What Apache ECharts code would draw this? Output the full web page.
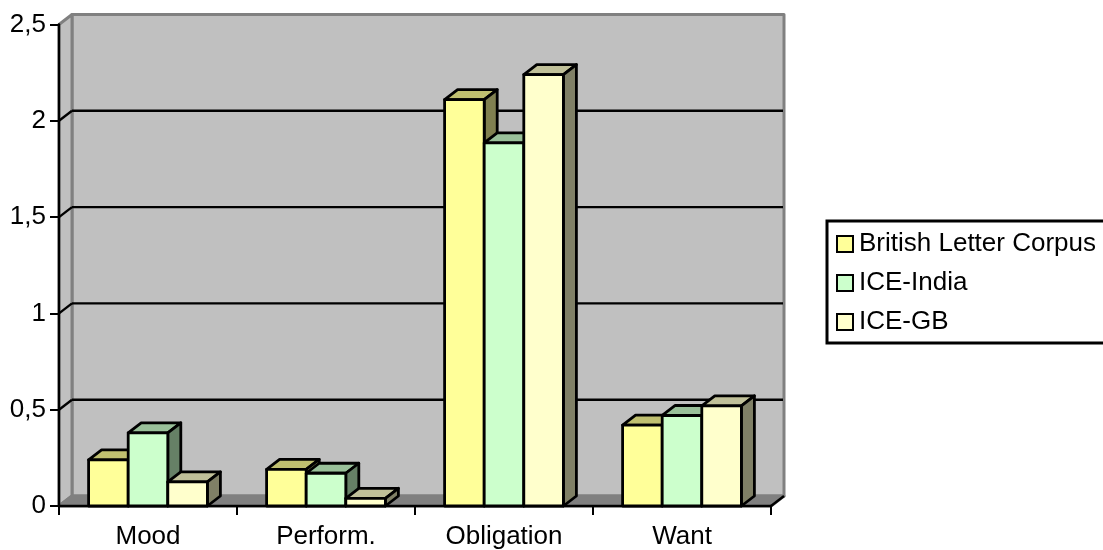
<!DOCTYPE html>
<html>
<head>
<meta charset="utf-8">
<style>html,body{margin:0;padding:0;background:#fff;overflow:hidden}#chart{width:1103px;height:550px}</style>
<script src="https://cdn.jsdelivr.net/npm/echarts@6/dist/echarts.min.js"></script>
</head>
<body>
<div id="chart"></div>
<script>
// Modal meanings per corpus
const categories = ['Mood', 'Perform.', 'Obligation', 'Want'];
const britishLetter = [0.24, 0.19, 2.11, 0.42];
const iceIndia = [0.38, 0.17, 1.885, 0.47];
const iceGB = [0.125, 0.04, 2.24, 0.52];
const yTicks = [0, 0.5, 1, 1.5, 2, 2.5];

// Pseudo-3D look
const DEPTH_X = 13, DEPTH_Y = -10;
const BAR_W = 39.6;
const LINE_W = 2.4;
const FONT = '"Liberation Sans", Arial, sans-serif';
const FONT_SIZE = 26;

const palettes = [
  { front: '#FFFF99', top: '#C0C070', side: '#808050' },
  { front: '#CCFFCC', top: '#99C099', side: '#668066' },
  { front: '#FFFFCC', top: '#C0C099', side: '#808066' }
];

function poly(points, fill, stroke, width) {
  return {
    type: 'polygon',
    shape: { points },
    style: { fill, stroke, lineWidth: width, lineJoin: 'round' }
  };
}
function seg(x1, y1, x2, y2, color, z2) {
  return {
    type: 'line', z2: z2 || 0,
    shape: { x1, y1, x2, y2 },
    style: { stroke: color, lineWidth: LINE_W, fill: null }
  };
}

// Back wall, side wall, floor and gridlines
function renderWalls(params, api) {
  const cs = params.coordSys;
  const l = cs.x, r = cs.x + cs.width;
  const y0 = api.coord([0, 0])[1], yT = api.coord([0, yTicks[yTicks.length - 1]])[1];
  const kids = [
    poly([[l + DEPTH_X, yT + DEPTH_Y], [r + DEPTH_X, yT + DEPTH_Y], [r + DEPTH_X, y0 + DEPTH_Y], [l + DEPTH_X, y0 + DEPTH_Y]], '#C0C0C0', '#808080', 3),
    poly([[l, yT], [l + DEPTH_X, yT + DEPTH_Y], [l + DEPTH_X, y0 + DEPTH_Y], [l, y0]], '#C0C0C0', '#808080', 3),
    poly([[l, y0], [l + DEPTH_X, y0 + DEPTH_Y], [r + DEPTH_X, y0 + DEPTH_Y], [r, y0]], '#808080', '#808080', 3),
    seg(r, y0, r + DEPTH_X, y0 + DEPTH_Y, '#000', 2)
  ];
  yTicks.slice(1, -1).forEach(t => {
    const y = api.coord([0, t])[1];
    kids.push(seg(l, y, l + DEPTH_X, y + DEPTH_Y, '#000', 2));
    kids.push(seg(l + DEPTH_X, y + DEPTH_Y, r + DEPTH_X - 1, y + DEPTH_Y, '#000', 2));
  });
  return { type: 'group', children: kids };
}

// One bar box: front face, top face, right face
function renderBar(seriesPos, pal) {
  return function (params, api) {
    const base = api.coord([api.value(0), 0]);
    const top = api.coord([api.value(0), api.value(1)]);
    const x = base[0] + (seriesPos - 1.5) * BAR_W;
    const xr = x + BAR_W, y = top[1], yb = base[1];
    const sw = 2.8;
    return {
      type: 'group',
      children: [
        poly([[x, y], [x + DEPTH_X, y + DEPTH_Y], [xr + DEPTH_X, y + DEPTH_Y], [xr, y]], pal.top, '#000', sw),
        poly([[xr, y], [xr + DEPTH_X, y + DEPTH_Y], [xr + DEPTH_X, yb + DEPTH_Y], [xr, yb]], pal.side, '#000', sw),
        poly([[x, y], [xr, y], [xr, yb], [x, yb]], pal.front, '#000', sw)
      ]
    };
  };
}

function barSeries(name, values, i) {
  return {
    type: 'custom',
    name,
    z: 2 + i,
    clip: false,
    silent: true,
    animation: false,
    itemStyle: { color: palettes[i].front, borderColor: '#000', borderWidth: 3 },
    encode: { x: 0, y: 1 },
    data: values.map((v, k) => [k, v]),
    renderItem: renderBar(i, palettes[i])
  };
}

const chart = echarts.init(document.getElementById('chart'), null, { renderer: 'canvas' });
chart.setOption({
  animation: false,
  backgroundColor: '#fff',
  textStyle: { fontFamily: FONT, color: '#000' },
  grid: { left: 59, right: 332, top: 24.5, bottom: 42.5 },
  legend: {
    orient: 'vertical',
    left: 827, top: 221,
    padding: [8, 12, 6, 9],
    itemGap: 9,
    itemWidth: 16, itemHeight: 16,
    icon: 'rect',
    borderColor: '#000', borderWidth: 3,
    backgroundColor: '#fff',
    selectedMode: false,
    textStyle: { fontFamily: FONT, fontSize: FONT_SIZE, color: '#000', padding: [0, 0, 0, 1], lineHeight: 30 },
    data: ['British Letter Corpus', 'ICE-India', 'ICE-GB']
  },
  xAxis: {
    type: 'category',
    data: categories,
    axisLine: { lineStyle: { color: '#000', width: 2.4 } },
    axisTick: { show: true, alignWithLabel: false, length: 9, lineStyle: { color: '#000', width: 2 } },
    axisLabel: { color: '#000', fontFamily: FONT, fontSize: FONT_SIZE, margin: 18 },
    splitLine: { show: false }
  },
  yAxis: {
    type: 'value',
    min: 0, max: 2.5, interval: 0.5,
    axisLine: { show: true, lineStyle: { color: '#000', width: 2.4 } },
    axisTick: { show: true, length: 9, lineStyle: { color: '#000', width: 2 } },
    axisLabel: {
      color: '#000', fontFamily: FONT, fontSize: FONT_SIZE, margin: 13, padding: [6, 0, 0, 0],
      formatter: v => String(v).replace('.', ',')
    },
    splitLine: { show: false }
  },
  series: [
    {
      type: 'custom',
      name: 'walls',
      z: -1,
      clip: false,
      silent: true,
      animation: false,
      encode: { x: 0, y: 1 },
      data: [[0, 0]],
      renderItem: renderWalls
    },
    barSeries('British Letter Corpus', britishLetter, 0),
    barSeries('ICE-India', iceIndia, 1),
    barSeries('ICE-GB', iceGB, 2)
  ]
});
</script>
</body>
</html>
